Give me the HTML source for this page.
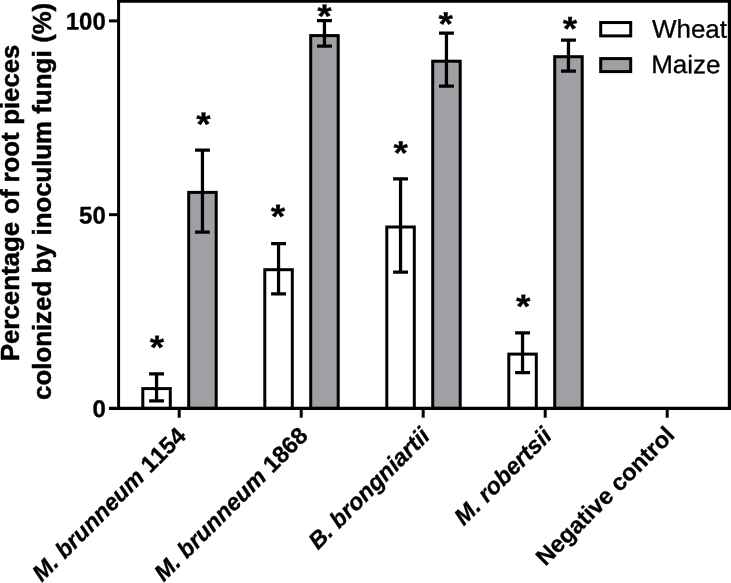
<!DOCTYPE html>
<html lang="en"><head><meta charset="utf-8"><title>Root colonization chart</title>
<style>html,body{margin:0;padding:0;background:#fff}body{width:731px;height:583px;overflow:hidden}svg{display:block;will-change:transform}text{font-family:"Liberation Sans", Arial, Helvetica, sans-serif;fill:#000;font-kerning:none}.r{stroke:#000;stroke-width:0.3px}.b{font-weight:bold;stroke:#000;stroke-width:0.3px}.t{stroke-width:0.5px}</style>
</head><body>
<svg width="731" height="583" viewBox="0 0 731 583">
<rect x="0" y="0" width="731" height="583" fill="#fff"/>
<rect x="142.80" y="388.60" width="27.5" height="19.80" fill="#fff" stroke="#000" stroke-width="3.0"/>
<path d="M156.55 373.80V400.90M149.10 373.80H164.00M149.10 400.90H164.00" fill="none" stroke="#000" stroke-width="3.25"/>
<rect x="188.70" y="192.40" width="27.5" height="216.00" fill="#a0a0a4" stroke="#000" stroke-width="3.0"/>
<path d="M202.45 150.00V232.10M195.00 150.00H209.90M195.00 232.10H209.90" fill="none" stroke="#000" stroke-width="3.25"/>
<rect x="264.80" y="269.70" width="27.5" height="138.70" fill="#fff" stroke="#000" stroke-width="3.0"/>
<path d="M278.55 243.50V293.90M271.10 243.50H286.00M271.10 293.90H286.00" fill="none" stroke="#000" stroke-width="3.25"/>
<rect x="310.70" y="35.60" width="27.5" height="372.80" fill="#a0a0a4" stroke="#000" stroke-width="3.0"/>
<path d="M324.45 20.70V46.00M317.00 20.70H331.90M317.00 46.00H331.90" fill="none" stroke="#000" stroke-width="3.25"/>
<rect x="386.80" y="227.00" width="27.5" height="181.40" fill="#fff" stroke="#000" stroke-width="3.0"/>
<path d="M400.55 178.90V272.00M393.10 178.90H408.00M393.10 272.00H408.00" fill="none" stroke="#000" stroke-width="3.25"/>
<rect x="432.70" y="61.20" width="27.5" height="347.20" fill="#a0a0a4" stroke="#000" stroke-width="3.0"/>
<path d="M446.45 33.00V86.00M439.00 33.00H453.90M439.00 86.00H453.90" fill="none" stroke="#000" stroke-width="3.25"/>
<rect x="508.80" y="354.10" width="27.5" height="54.30" fill="#fff" stroke="#000" stroke-width="3.0"/>
<path d="M522.55 332.90V372.50M515.10 332.90H530.00M515.10 372.50H530.00" fill="none" stroke="#000" stroke-width="3.25"/>
<rect x="554.70" y="56.70" width="27.5" height="351.70" fill="#a0a0a4" stroke="#000" stroke-width="3.0"/>
<path d="M568.45 40.00V71.10M561.00 40.00H575.90M561.00 71.10H575.90" fill="none" stroke="#000" stroke-width="3.25"/>
<path d="M109.00 408.40H731.00" stroke="#000" stroke-width="3.2" fill="none"/>
<path d="M118.60 0.00V409.90" stroke="#000" stroke-width="3" fill="none"/>
<path d="M117.10 1.10H731.00" stroke="#000" stroke-width="3.5" fill="none"/>
<path d="M729.40 0.00V409.90" stroke="#000" stroke-width="3.2" fill="none"/>
<path d="M109 20.90H118.60" stroke="#000" stroke-width="3" fill="none"/>
<path d="M109 214.65H118.60" stroke="#000" stroke-width="3" fill="none"/>
<text transform="translate(105.8 29.45) rotate(0.05)" font-size="24" class="b" text-anchor="end">100</text>
<text transform="translate(105.8 223.50) rotate(0.05)" font-size="24" class="b" text-anchor="end">50</text>
<text transform="translate(105.8 417.10) rotate(0.05)" font-size="24" class="b" text-anchor="end">0</text>
<path d="M179.20 408.40V417.70" stroke="#000" stroke-width="3" fill="none"/>
<path d="M301.20 408.40V417.70" stroke="#000" stroke-width="3" fill="none"/>
<path d="M423.20 408.40V417.70" stroke="#000" stroke-width="3" fill="none"/>
<path d="M545.20 408.40V417.70" stroke="#000" stroke-width="3" fill="none"/>
<path d="M667.20 408.40V417.70" stroke="#000" stroke-width="3" fill="none"/>
<text transform="translate(157.00 358.77) rotate(0.05) scale(1.1 1)" font-size="33.6" class="b" text-anchor="middle">*</text>
<text transform="translate(203.43 135.40) rotate(0.05) scale(1.1 1)" font-size="33.6" class="b" text-anchor="middle">*</text>
<text transform="translate(277.97 227.64) rotate(0.05) scale(1.1 1)" font-size="33.6" class="b" text-anchor="middle">*</text>
<text transform="translate(324.52 27.49) rotate(0.05) scale(1.1 1)" font-size="33.6" class="b" text-anchor="middle">*</text>
<text transform="translate(400.74 164.37) rotate(0.05) scale(1.1 1)" font-size="33.6" class="b" text-anchor="middle">*</text>
<text transform="translate(445.75 35.33) rotate(0.05) scale(1.1 1)" font-size="33.6" class="b" text-anchor="middle">*</text>
<text transform="translate(523.19 317.77) rotate(0.05) scale(1.1 1)" font-size="33.6" class="b" text-anchor="middle">*</text>
<text transform="translate(569.97 40.05) rotate(0.05) scale(1.1 1)" font-size="33.6" class="b" text-anchor="middle">*</text>
<text transform="translate(187.20 437.25) rotate(-45)" font-size="23.45" class="b" text-anchor="end" xml:space="preserve"><tspan font-style="italic">M. brunneum</tspan> 1154</text>
<text transform="translate(309.30 437.10) rotate(-45)" font-size="23.45" class="b" text-anchor="end" xml:space="preserve"><tspan font-style="italic">M. brunneum</tspan> 1868</text>
<text transform="translate(431.15 437.33) rotate(-45)" font-size="23.45" class="b" text-anchor="end" xml:space="preserve"><tspan font-style="italic">B. brongniartii</tspan></text>
<text transform="translate(553.20 437.25) rotate(-45)" font-size="23.45" class="b" text-anchor="end" xml:space="preserve"><tspan font-style="italic">M. robertsii</tspan></text>
<text transform="translate(675.96 436.40) rotate(-45)" font-size="23.55" class="b" text-anchor="end" xml:space="preserve">Negative control</text>
<text transform="translate(19.30 361.31) rotate(-90) scale(1.0034 1)" font-size="25.8" class="b t">Percentage</text>
<text transform="translate(19.30 214.04) rotate(-90) scale(1.0119 1)" font-size="25.8" class="b t">of</text>
<text transform="translate(19.30 182.50) rotate(-90) scale(1.0002 1)" font-size="25.8" class="b t">root</text>
<text transform="translate(19.30 124.70) rotate(-90) scale(0.9961 1)" font-size="25.8" class="b t">pieces</text>
<text transform="translate(50.70 399.88) rotate(-90) scale(1.0013 1)" font-size="25.8" class="b t">colonized</text>
<text transform="translate(50.70 273.57) rotate(-90) scale(0.9778 1)" font-size="25.8" class="b t">by</text>
<text transform="translate(50.70 235.40) rotate(-90) scale(0.9973 1)" font-size="25.8" class="b t">inoculum</text>
<text transform="translate(50.70 113.87) rotate(-90) scale(1.0085 1)" font-size="25.8" class="b t">fungi</text>
<text transform="translate(50.70 42.78) rotate(-90) scale(0.9956 1)" font-size="25.8" class="b t">(%)</text>
<rect x="600.7" y="22.55" width="30" height="13.35" fill="#fff" stroke="#000" stroke-width="3"/>
<rect x="600.7" y="58.6" width="30" height="13.0" fill="#a0a0a4" stroke="#000" stroke-width="3"/>
<text class="r" transform="translate(651.9 37.6) rotate(0.05) scale(1.024 1)" font-size="25.4">Wheat</text>
<text class="r" transform="translate(651.2 73.1) rotate(0.05) scale(1.024 1)" font-size="25.4">Maize</text>
</svg></body></html>
